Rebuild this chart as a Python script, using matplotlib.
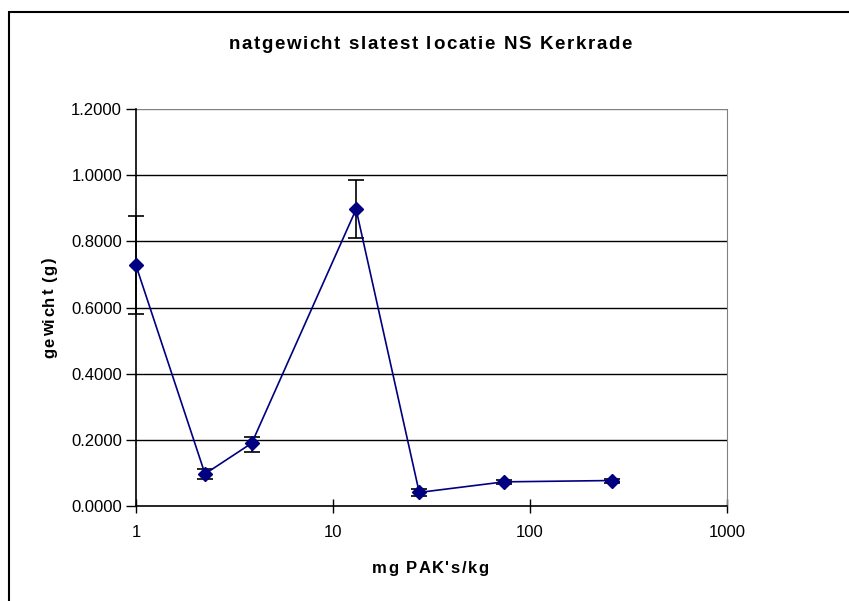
import matplotlib.pyplot as plt
import matplotlib.transforms as mtransforms
from matplotlib.patches import Rectangle
from matplotlib.ticker import FixedLocator, FixedFormatter

# concentratie (mg PAK's/kg) en natgewicht (g) met spreiding
conc = [1.0, 2.24, 3.87, 13.1, 27.4, 73.8, 260.0]
gewicht = [0.727, 0.097, 0.190, 0.897, 0.041, 0.073, 0.077]
err_plus = [0.149, 0.015, 0.020, 0.088, 0.010, 0.007, 0.006]
err_min = [0.148, 0.015, 0.026, 0.088, 0.010, 0.007, 0.006]

y_ticks = [0.0, 0.2, 0.4, 0.6, 0.8, 1.0, 1.2]
x_ticks = [1, 10, 100, 1000]
x_labels = ['1', '10', '100', '1000']

titel = 'natgewicht slatest locatie NS Kerkrade'
x_titel = "mg PAK's/kg"
y_titel = 'gewicht (g)'

plt.rcParams['font.family'] = ['Liberation Sans', 'DejaVu Sans']

W, H = 849, 601
fig = plt.figure(figsize=(W / 100, H / 100), dpi=100)
renderer = fig.canvas.get_renderer()
pix = mtransforms.IdentityTransform()


def text_width(s, **kw):
    t = fig.text(0, 0, s, **kw)
    w = t.get_window_extent(renderer).width
    t.remove()
    return w


def spaced_text(s, cx, cy, gap, rotation=0, **kw):
    # tekst met extra letterafstand, gecentreerd op (cx, cy) in pixels
    base = text_width('xx', **kw)
    widths = [text_width('x' + ch + 'x', **kw) - base for ch in s]
    total = sum(widths) + gap * (len(s) - 1)
    pos = -total / 2
    for ch, w in zip(s, widths):
        if rotation == 90:
            x, y = cx, cy + pos
        else:
            x, y = cx + pos, cy
        fig.text(x, y, ch, transform=pix, rotation=rotation,
                 rotation_mode='anchor', ha='left', va='baseline', **kw)
        pos += w + gap


fig.patches.append(Rectangle((9 / W, -0.05), 1.1, 1 - 12 / H + 0.05,
                             transform=fig.transFigure, fill=False,
                             edgecolor='black', linewidth=1.5))

ax = fig.add_axes([136 / W, 95 / H, 591 / W, 397 / H])

eb = ax.errorbar(conc, gewicht, yerr=[err_min, err_plus], fmt='none',
                 ecolor='black', elinewidth=1.2, capsize=6, capthick=1.2, zorder=3)
for art in eb.get_children():
    art.set_clip_on(False)
ax.plot(conc, gewicht, color='#000080', linewidth=1.2, marker='D',
        markersize=7, markerfacecolor='#000080', markeredgecolor='#000080',
        zorder=4, clip_on=False)

ax.set_xscale('log')
ax.set_xlim(1, 1000)
ax.set_ylim(0, 1.2)
ax.xaxis.set_major_locator(FixedLocator(x_ticks))
ax.xaxis.set_major_formatter(FixedFormatter(x_labels))
ax.xaxis.set_minor_locator(FixedLocator([]))
ax.set_yticks(y_ticks)
ax.set_yticklabels(['%.4f' % v for v in y_ticks])

for v in y_ticks[1:]:
    ax.axhline(v, color='black' if v < 1.1 else '#808080', linewidth=1, zorder=1)

ax.spines['top'].set_visible(False)
ax.spines['right'].set_color('#808080')
ax.spines['left'].set_linewidth(1.2)
ax.spines['bottom'].set_linewidth(1.2)
ax.tick_params(axis='y', direction='out', length=7, width=1, labelsize=12, pad=3)
ax.tick_params(axis='x', direction='inout', length=10, width=1, labelsize=12, pad=9)

spaced_text(titel, 430, H - 49, 1.6, fontsize=13.5, fontweight='bold')
spaced_text(x_titel, 430, H - 573, 1.5, fontsize=12, fontweight='bold')
spaced_text(y_titel, 54, H - 308, 1.3, rotation=90, fontsize=12, fontweight='bold')

fig.savefig('out.png', dpi=100)
